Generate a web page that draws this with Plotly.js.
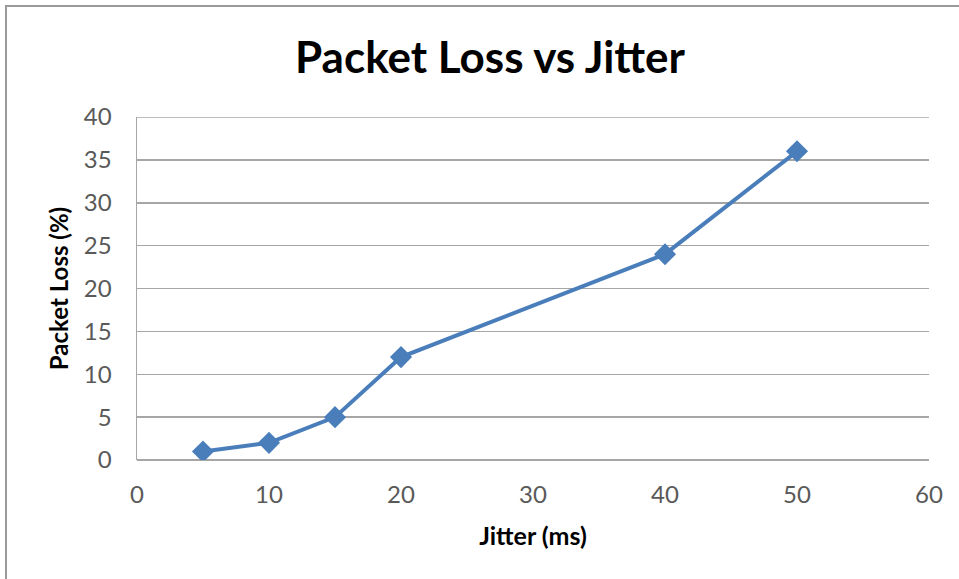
<!DOCTYPE html>
<html>
<head>
<meta charset="utf-8">
<script src="https://cdn.plot.ly/plotly-3.0.1.min.js"></script>
<style>
  html, body { margin: 0; padding: 0; background: #fff; }
  #frame { position: absolute; left: 5px; top: 5px; width: 960px; height: 580px;
           border-left: 2px solid #9a9a9a; border-top: 2px solid #9a9a9a; }
  #chart { position: absolute; left: 0; top: 0; width: 959px; height: 579px; }
</style>
</head>
<body>
<div id="frame"></div>
<div id="chart"></div>
<script>
const jitterMs = [5, 10, 15, 20, 40, 50];
const packetLossPct = [1, 2, 5, 12, 24, 36];
const xTicks = [0, 10, 20, 30, 40, 50, 60];
const yTicks = [0, 5, 10, 15, 20, 25, 30, 35, 40];
const yMax = 40;

const FONT = 'Lato, "Open Sans", sans-serif';

const trace = {
  x: jitterMs,
  y: packetLossPct,
  type: 'scatter',
  mode: 'lines+markers',
  line: { color: '#4a7ebb', width: 4 },
  marker: { symbol: 'diamond', size: 17, color: '#4a7ebb' },
  showlegend: false,
  hoverinfo: 'x+y'
};

const layout = {
  width: 959, height: 579,
  paper_bgcolor: 'rgba(0,0,0,0)',
  plot_bgcolor: 'rgba(0,0,0,0)',
  margin: { l: 137, r: 30, t: 117, b: 119 },
  title: {
    text: '<b>Packet Loss vs Jitter</b>',
    font: { family: FONT, size: 44, color: '#000' },
    xref: 'container', x: 0.511, xanchor: 'center',
    yref: 'container', y: 0.9, yanchor: 'middle'
  },
  xaxis: {
    range: [0, 60],
    tickvals: xTicks,
    ticktext: xTicks.map(String),
    showgrid: false,
    zeroline: false,
    showline: false,
    ticks: '',
    ticklabelstandoff: 18,
    tickfont: { family: FONT, size: 24, color: '#595959' },
    title: { text: '<b>Jitter (ms)</b>', font: { family: FONT, size: 25, color: '#000' }, standoff: 20 },
    fixedrange: true
  },
  yaxis: {
    range: [0, yMax],
    tickvals: yTicks,
    ticktext: yTicks.map(String),
    showgrid: true,
    gridcolor: '#a6a6a6',
    gridwidth: 1.5,
    zeroline: true,
    zerolinecolor: '#a6a6a6',
    zerolinewidth: 1.5,
    showline: true,
    linecolor: '#a6a6a6',
    linewidth: 1.5,
    ticks: '',
    ticklabelstandoff: 19,
    tickfont: { family: FONT, size: 24, color: '#595959' },
    title: { text: '<b>Packet Loss (%)</b>', font: { family: FONT, size: 24, color: '#000' }, standoff: 8 },
    fixedrange: true
  },
  shapes: [{
    type: 'line', xref: 'paper', yref: 'y',
    x0: 0, x1: 1, y0: yMax, y1: yMax,
    line: { color: '#a6a6a6', width: 1.5 }, layer: 'below'
  }]
};

Plotly.newPlot('chart', [trace], layout, { displayModeBar: false, staticPlot: true });
</script>
</body>
</html>
